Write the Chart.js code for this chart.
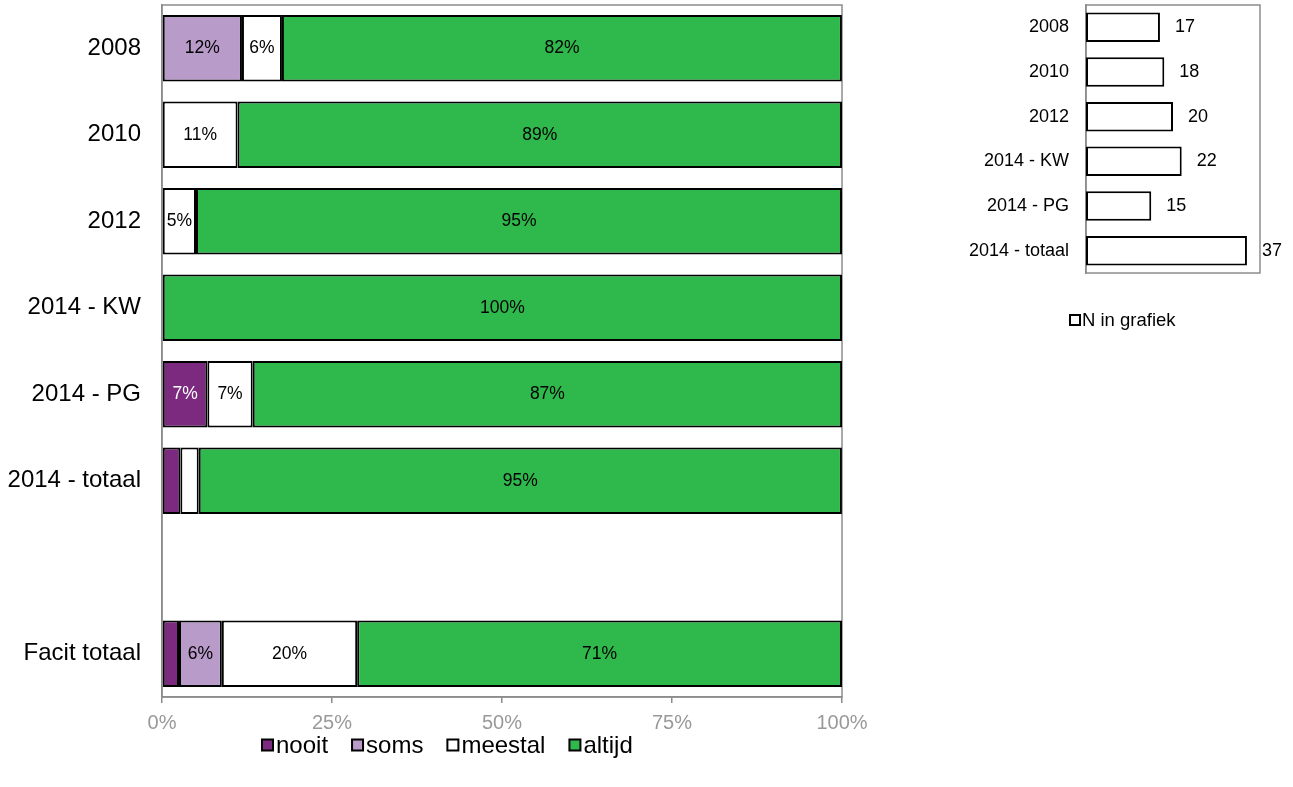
<!DOCTYPE html>
<html>
<head>
<meta charset="utf-8">
<script src="https://cdn.jsdelivr.net/npm/chart.js@4"></script>
<style>
  body { margin: 0; background: #fff; }
  #wrap { position: relative; width: 1293px; height: 787px; }
  #mainChart { position: absolute; left: 0; top: 0; }
  #nChart { position: absolute; left: 900px; top: 0; }
</style>
</head>
<body>
<div id="wrap">
  <canvas id="mainChart" width="900" height="787"></canvas>
  <canvas id="nChart" width="393" height="340"></canvas>
</div>
<script>
// share per answer, in percent (empty row separates the totals)
let categories = ['2008', '2010', '2012', '2014 - KW', '2014 - PG', '2014 - totaal', '', 'Facit totaal']
let nooit   = [null, null, null, null, 6.67, 2.70, null, 2.5]
let soms    = [11.76, null, null, null, null, null, null, 6.3]
let meestal = [5.88, 11.11, 5.0, null, 6.67, 2.70, null, 19.9]
let altijd  = [82.35, 88.89, 95.0, 100, 86.67, 94.59, null, 71.3]
let pctTicks = [0, 25, 50, 75, 100]

// number of respondents per year
let nCategories = ['2008', '2010', '2012', '2014 - KW', '2014 - PG', '2014 - totaal']
let nValues = [17, 18, 20, 22, 15, 37]

let fontFamily = "'Liberation Sans', Arial, sans-serif"
Chart.defaults.font.family = fontFamily
Chart.defaults.color = '#000'

let axisGrey = '#8c8c8c'

// grey box round the plot area
let frame = {
  id: 'frame',
  beforeDatasetsDraw(chart) {
    let { ctx, chartArea: a } = chart
    ctx.save()
    ctx.strokeStyle = axisGrey
    ctx.lineWidth = 1.5
    ctx.strokeRect(a.left, a.top, a.right - a.left, a.bottom - a.top)
    ctx.restore()
  }
}

// value labels, centred in the segment or just past the bar end
let barLabels = {
  id: 'barLabels',
  afterDatasetsDraw(chart, args, opts) {
    let ctx = chart.ctx
    ctx.save()
    ctx.font = opts.size + 'px ' + fontFamily
    ctx.textBaseline = 'middle'
    chart.data.datasets.forEach((ds, i) => {
      let meta = chart.getDatasetMeta(i)
      meta.data.forEach((bar, j) => {
        let v = ds.data[j]
        if (v == null || v < opts.min) return
        let txt = Math.round(v) + opts.suffix
        ctx.fillStyle = ds.labelColor || '#000'
        if (opts.outside) {
          ctx.textAlign = 'left'
          ctx.fillText(txt, bar.x + opts.offset, bar.y)
        } else {
          ctx.textAlign = 'center'
          ctx.fillText(txt, (bar.x + bar.base) / 2, bar.y)
        }
      })
    })
    ctx.restore()
  }
}

// legend with small bordered squares close to the text
let boxLegend = {
  id: 'boxLegend',
  afterDraw(chart, args, opts) {
    let ctx = chart.ctx
    ctx.save()
    ctx.font = opts.size + 'px ' + fontFamily
    ctx.textBaseline = 'middle'
    ctx.textAlign = 'left'
    let x = opts.x
    chart.data.datasets.forEach(ds => {
      ctx.fillStyle = ds.backgroundColor
      ctx.fillRect(x, opts.y - opts.box / 2, opts.box, opts.box)
      ctx.strokeStyle = '#000'
      ctx.lineWidth = 2
      ctx.strokeRect(x, opts.y - opts.box / 2, opts.box, opts.box)
      ctx.fillStyle = '#000'
      ctx.fillText(ds.label, x + opts.box + opts.gap, opts.y + 1)
      x += opts.box + opts.gap + ctx.measureText(ds.label).width + opts.spacing
    })
    ctx.restore()
  }
}

// category axis: fixed width and no extra room above/below for labels
let fixCategoryAxis = width => s => {
  s.width = width
  s.paddingTop = 0
  s.paddingBottom = 0
}

let segment = {
  borderColor: '#000',
  borderWidth: 2,
  borderSkipped: false,
  barPercentage: 0.77,
  categoryPercentage: 1
}

new Chart(document.getElementById('mainChart'), {
  type: 'bar',
  data: {
    labels: categories,
    datasets: [
      { ...segment, label: 'nooit', data: nooit, backgroundColor: '#7b2a7f', labelColor: '#fff' },
      { ...segment, label: 'soms', data: soms, backgroundColor: '#b99bca' },
      { ...segment, label: 'meestal', data: meestal, backgroundColor: '#ffffff' },
      { ...segment, label: 'altijd', data: altijd, backgroundColor: '#2fb84b' }
    ]
  },
  options: {
    indexAxis: 'y',
    responsive: false,
    animation: false,
    layout: { padding: { top: 5, right: 58, bottom: 0, left: 0 } },
    scales: {
      x: {
        stacked: true,
        min: 0,
        max: 100,
        afterBuildTicks: s => { s.ticks = pctTicks.map(v => ({ value: v })) },
        ticks: { callback: v => v + '%', color: '#999', font: { size: 20 }, padding: 8 },
        grid: { drawOnChartArea: false, tickLength: 6, color: axisGrey, lineWidth: 1.5 },
        border: { color: axisGrey, width: 1.5 },
        afterFit: s => { s.height = 90 }
      },
      y: {
        stacked: true,
        ticks: { color: '#000', font: { size: 24 }, padding: 13 },
        grid: { display: false },
        border: { color: axisGrey, width: 1.5 },
        afterFit: fixCategoryAxis(162)
      }
    },
    plugins: {
      legend: { display: false },
      tooltip: { enabled: false },
      barLabels: { size: 17.5, min: 4, suffix: '%', outside: false, offset: 0 },
      boxLegend: { x: 262, y: 745, size: 24, box: 11, gap: 3, spacing: 24 }
    }
  },
  plugins: [frame, barLabels, boxLegend]
})

new Chart(document.getElementById('nChart'), {
  type: 'bar',
  data: {
    labels: nCategories,
    datasets: [
      { label: 'N in grafiek', data: nValues, backgroundColor: '#ffffff', borderColor: '#000',
        borderWidth: 2, borderSkipped: false, barPercentage: 0.66, categoryPercentage: 1 }
    ]
  },
  options: {
    indexAxis: 'y',
    responsive: false,
    animation: false,
    layout: { padding: { top: 5, right: 33, bottom: 67, left: 0 } },
    scales: {
      x: { display: false, min: 0, max: 40 },
      y: {
        ticks: { color: '#000', font: { size: 18 }, padding: 9 },
        grid: { display: false },
        border: { color: axisGrey, width: 1.5 },
        afterFit: fixCategoryAxis(186)
      }
    },
    plugins: {
      legend: { display: false },
      tooltip: { enabled: false },
      barLabels: { size: 18, min: 0, suffix: '', outside: true, offset: 15 },
      boxLegend: { x: 170, y: 320, size: 18.5, box: 10, gap: 2, spacing: 0 }
    }
  },
  plugins: [frame, barLabels, boxLegend]
})
</script>
</body>
</html>
